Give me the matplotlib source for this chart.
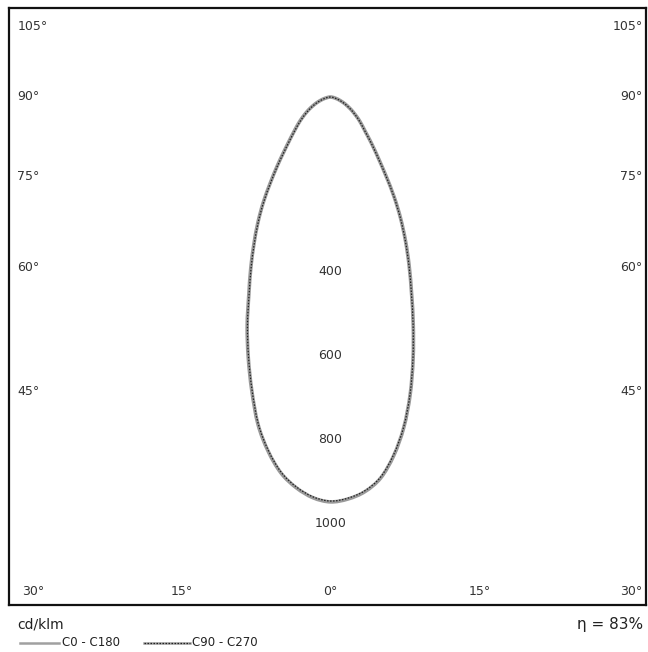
import matplotlib.pyplot as plt
import numpy as np
from matplotlib.lines import Line2D
from matplotlib.path import Path
from matplotlib.patches import PathPatch

# Luminous intensity distribution (cd/klm), gamma measured from nadir
gamma = [0, 2.5, 5, 7.5, 10, 12.5, 15, 17.5, 20, 22.5, 25, 27.5, 30, 32.5, 35, 37.5,
         40, 42.5, 45, 47.5, 50, 52.5, 55, 57.5, 60, 62.5, 65, 67.5, 70, 72.5, 75,
         77.5, 80, 82.5, 85, 87.5, 90]
# right half (C0 / C90) and left half (C180 / C270)
c0 = [964, 958, 943, 915, 867, 806, 733, 654, 576, 504, 443, 387, 334, 282, 232, 192,
      162, 138, 118, 104, 92, 81, 70, 61, 52, 44, 37, 30, 24, 19, 14, 10, 7, 4, 2, 1, 0]
c180 = [964, 955, 934, 903, 856, 798, 724, 651, 580, 508, 449, 395, 346, 298, 250, 210,
        176, 150, 130, 114, 101, 89, 78, 68, 59, 50, 42, 35, 28, 22, 17, 12, 8, 5, 3, 1, 0]
c90 = [962, 956, 941, 913, 865, 805, 732, 653, 575, 503, 442, 386, 333, 281, 231, 191,
       161, 137, 117, 103, 91, 80, 69, 60, 51, 43, 36, 29, 23, 18, 13, 10, 7, 4, 2, 1, 0]
c270 = [962, 953, 932, 901, 854, 796, 722, 649, 578, 506, 447, 393, 344, 296, 248, 208,
        174, 148, 128, 112, 99, 87, 76, 66, 57, 49, 41, 34, 27, 21, 16, 12, 8, 5, 3, 1, 0]

radial_ticks = [400, 600, 800, 1000]
side_angles = [105, 90, 75, 60, 45]
bottom_angles = [30, 15, 0, 15, 30]
efficiency = 83

W, H = 648, 652
scale = 0.42          # px per cd/klm
ox, oy = 330.5, 97    # origin in pixels (top-left based)
left, right, top, bottom = 9, 646, 8, 605

fig = plt.figure(figsize=(W / 100, H / 100), dpi=100)
ax = fig.add_axes([left / W, 1 - bottom / H, (right - left) / W, (bottom - top) / H])
ax.set_xlim((left - ox) / scale, (right - ox) / scale)
ax.set_ylim(-(bottom - oy) / scale, (oy - top) / scale)
ax.set_xticks([])
ax.set_yticks([])
for s in ax.spines.values():
    s.set_linewidth(1.6)
    s.set_color('#111111')


def curve(right_half, left_half):
    g = np.radians(np.array(gamma))
    r_r = np.array(right_half)
    r_l = np.array(left_half)
    x = np.r_[-(r_l * np.sin(g))[::-1], (r_r * np.sin(g))[1:]]
    y = np.r_[-(r_l * np.cos(g))[::-1], -(r_r * np.cos(g))[1:]]
    return np.column_stack([x, y])


def smooth_path(pts):
    # closed Catmull-Rom curve through the points, as cubic Bezier segments
    p = pts[:-1]
    n = len(p)
    verts = [p[0]]
    codes = [Path.MOVETO]
    for i in range(n):
        a, b, c, d = p[i - 1], p[i], p[(i + 1) % n], p[(i + 2) % n]
        verts += [b + (c - a) / 6, c - (d - b) / 6, c]
        codes += [Path.CURVE4] * 3
    return Path(verts, codes)


ax.add_patch(PathPatch(smooth_path(curve(c0, c180)), fill=False, ec='#9a9a9a', lw=2.6))
ax.add_patch(PathPatch(smooth_path(curve(c90, c270)), fill=False, ec='#222222', lw=0.9,
                       ls=(0, (1.2, 1.2))))

txt = dict(fontsize=9, color='#333333')
xmin, xmax = ax.get_xlim()
ymin, ymax = ax.get_ylim()

# side angle labels
edge = 702
for a in side_angles:
    y = -edge / np.tan(np.radians(a)) if a != 90 else 0
    y = min(y, ymax - 45)
    ax.text(xmin + 20, y, f'{a}°', ha='left', va='center', **txt)
    ax.text(xmax - 8, y, f'{a}°', ha='right', va='center', **txt)

# bottom angle labels
depth = 1324
yb = ymin + 33
for i, a in enumerate(bottom_angles):
    sign = -1 if i < 2 else 1
    x = sign * depth * np.tan(np.radians(a))
    if x < xmin + 30:
        ax.text(xmin + 30, yb, f'{a}°', ha='left', va='center', **txt)
    elif x > xmax - 8:
        ax.text(xmax - 8, yb, f'{a}°', ha='right', va='center', **txt)
    else:
        ax.text(x, yb, f'{a}°', ha='center', va='center', **txt)

# radial labels
for r in radial_ticks:
    ax.text(0, -(r + 15), str(r), ha='center', va='center', **txt)

# footer
ly = 1 - 643 / H
fig.text(17 / W, 1 - 624 / H, 'cd/klm', fontsize=10, color='#222222', va='center')
fig.text(643 / W, 1 - 625 / H, f'η = {efficiency}%', fontsize=11, color='#222222',
         va='center', ha='right')
fig.add_artist(Line2D([20 / W, 59 / W], [ly] * 2, color='#a0a0a0', lw=1.8))
fig.text(62 / W, ly, 'C0 - C180', fontsize=8.5, color='#222222', va='center')
fig.add_artist(Line2D([144 / W, 190 / W], [ly] * 2, color='#a0a0a0', lw=1.8))
fig.add_artist(Line2D([144 / W, 190 / W], [ly] * 2, color='#222222', lw=0.9,
                      ls=(0, (1.2, 1.2))))
fig.text(192 / W, ly, 'C90 - C270', fontsize=8.5, color='#222222', va='center')

fig.savefig('out.png', dpi=100, facecolor='white')
